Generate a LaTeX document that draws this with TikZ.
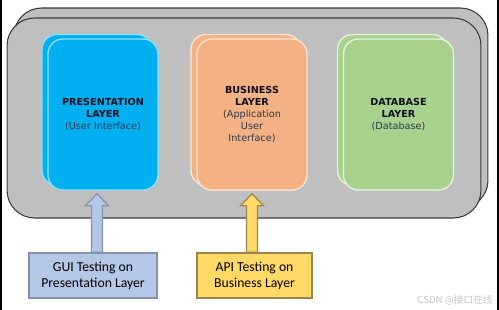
\documentclass[tikz,border=0pt]{standalone}
\usepackage{fontspec}
\setmainfont{DejaVu Sans}
\newfontfamily\calibri{Carlito}
\newfontfamily\cjk{Noto Sans CJK SC}
\usetikzlibrary{calc}

\definecolor{framegray}{HTML}{BFBFBF}
\definecolor{frameline}{HTML}{3A3A3A}
\definecolor{presfill}{HTML}{00B0F0}
\definecolor{presline}{HTML}{8FDDF8}
\definecolor{busfill}{HTML}{F4B183}
\definecolor{busline}{HTML}{FBE3D2}
\definecolor{dbfill}{HTML}{A9D18E}
\definecolor{dbline}{HTML}{E4F1DA}
\definecolor{titlecol}{HTML}{101020}
\definecolor{subcol}{HTML}{2E3A4E}
\definecolor{guifill}{HTML}{B4C7E7}
\definecolor{guiline}{HTML}{8393AD}
\definecolor{apifill}{HTML}{FFD966}
\definecolor{apiline}{HTML}{9A8650}

\begin{document}
\begin{tikzpicture}[x=0.02cm, y=-0.02cm,
    container/.style={draw=frameline, fill=framegray, line width=0.6pt, rounded corners=0.55cm,
        minimum width=9.48cm, minimum height=4cm},
    layer/.style={line width=0.8pt, rounded corners=0.3cm, minimum width=2.2cm,
        minimum height=3.02cm, align=center, text=titlecol, font=\fontsize{5.5}{6.8}\selectfont},
    testbox/.style={line width=0.8pt, minimum height=0.9cm, align=center,
        font=\calibri\fontsize{7.8}{9.2}\selectfont},
    blockarrow/.style={to path={
        ($(\tikztostart)+(-5.5,0)$) -- ($(\tikztotarget)+(-5.5,12)$) -- ($(\tikztotarget)+(-11.5,12)$)
        -- (\tikztotarget) -- ($(\tikztotarget)+(11.5,12)$) -- ($(\tikztotarget)+(5.5,12)$)
        -- ($(\tikztostart)+(5.5,0)$) -- cycle}}
]
    \useasboundingbox (0,0) rectangle (499,310);

    % screenshot edges
    \draw[line width=1.2pt] (0.6,0) -- (0.6,310);
    \draw[line width=1.2pt] (497.6,0) -- (497.6,310);

    % grey container, doubled
    \node[container] (frame back) at (251,108) {};
    \node[container] (frame) at (244,118) {};

    % the three layers, each with a sheet behind it
    \node[layer, draw=presline, fill=presfill] (pres back) at (97,110) {};
    \node[layer, draw=presline, fill=presfill] (pres) at (103,114.5)
        {\textbf{PRESENTATION}\\\textbf{LAYER}\\\textcolor{subcol}{(User Interface)}};
    \node[layer, draw=busline, fill=busfill] (bus back) at (246,110) {};
    \node[layer, draw=busline, fill=busfill] (bus) at (252,114.5)
        {\textbf{BUSINESS}\\\textbf{LAYER}\\\textcolor{subcol}{(Application}\\\textcolor{subcol}{User}\\\textcolor{subcol}{Interface)}};
    \node[layer, draw=dbline, fill=dbfill] (db back) at (392.5,110) {};
    \node[layer, draw=dbline, fill=dbfill] (db) at (398.5,114.5)
        {\textbf{DATABASE}\\\textbf{LAYER}\\\textcolor{subcol}{(Database)}};

    % testing boxes
    \node[testbox, draw=guiline, fill=guifill, minimum width=2.56cm] (gui) at (93,275.5)
        {GUI Testing on\\Presentation Layer};
    \node[testbox, draw=apiline, fill=apifill, minimum width=2.3cm] (api) at (254.5,275.5)
        {API Testing on\\Business Layer};

    % arrows up into the layers
    \coordinate (gui tip) at ($(pres.south)+(-6,3)$);
    \coordinate (api tip) at ($(bus.south)+(0,3)$);
    \draw[draw=guiline, fill=guifill, line width=0.7pt] (gui tip |- gui.north) to[blockarrow] (gui tip);
    \draw[draw=apiline, fill=apifill, line width=0.7pt] (api tip |- api.north) to[blockarrow] (api tip);

    \node[text=black!22, font=\cjk\fontsize{5.5}{6.5}\selectfont] (mark) at (455,300) {CSDN @接口在线};
\end{tikzpicture}
\end{document}
